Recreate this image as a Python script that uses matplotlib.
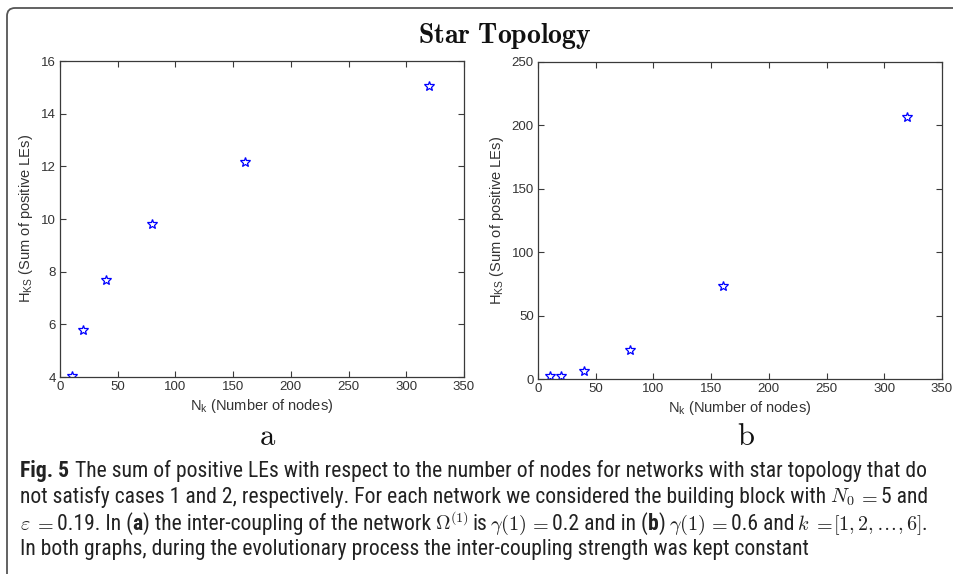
import matplotlib
matplotlib.use("Agg")
import matplotlib.pyplot as plt
from matplotlib import font_manager
from matplotlib.patches import FancyBboxPatch
from matplotlib.transforms import IdentityTransform

# data
nodes = [10, 20, 40, 80, 160, 320]
hks_a = [4.02, 5.77, 7.68, 9.80, 12.18, 15.05]
hks_b = [2.5, 2.5, 6.5, 23.0, 73.0, 207.0]

xticks = [0, 50, 100, 150, 200, 250, 300, 350]
yticks_a = [4, 6, 8, 10, 12, 14, 16]
yticks_b = [0, 50, 100, 150, 200, 250]

title = "Star Topology"
xlabel = "N$_\\mathregular{k}$ (Number of nodes)"
ylabel = "H$_\\mathregular{KS}$ (Sum of positive LEs)"

W, H = 954, 574
fig = plt.figure(figsize=(W / 100, H / 100), dpi=100)
plt.rcParams["font.family"] = ["Liberation Sans", "DejaVu Sans"]

axcol = "#3a3a3a"
txtcol = "#333333"


def panel(rect, y, yticks, ylim):
    ax = fig.add_axes(rect)
    ax.plot(nodes, y, linestyle="none", marker="*", markersize=7.5,
            markerfacecolor="none", markeredgecolor="#0000ff", markeredgewidth=0.9)
    ax.set_xlim(0, 350)
    ax.set_ylim(*ylim)
    ax.set_xticks(xticks)
    ax.set_yticks(yticks)
    ax.tick_params(direction="in", top=True, right=True, length=4, width=0.8,
                   labelsize=9.5, colors=axcol, labelcolor=txtcol, pad=3)
    for s in ax.spines.values():
        s.set_color(axcol)
        s.set_linewidth(0.9)
    ax.set_xlabel(xlabel, fontsize=10.5, color=txtcol, labelpad=3)
    ax.set_ylabel(ylabel, fontsize=10.5, color=txtcol, labelpad=4)
    return ax


panel([60 / W, 1 - 377 / H, 404 / W, 316 / H], hks_a, yticks_a, (4, 16))
panel([538 / W, 1 - 379 / H, 404 / W, 317 / H], hks_b, yticks_b, (0, 250))

fig.text(505 / W, 1 - 36 / H, "$\\mathbf{Star\\ Topology}$", math_fontfamily="cm",
         fontsize=20, ha="center", va="center", color="#111111")
fig.text(268 / W, 1 - 437 / H, "$\\mathrm{a}$", math_fontfamily="cm",
         fontsize=22, ha="center", va="center", color="#111111")
fig.text(746 / W, 1 - 437 / H, "$\\mathrm{b}$", math_fontfamily="cm",
         fontsize=22, ha="center", va="center", color="#111111")

# frame around the figure
fig.add_artist(FancyBboxPatch((7, -30), 1100, H - 8 + 30,
                              boxstyle="round,pad=0,rounding_size=8",
                              transform=IdentityTransform(), fill=False,
                              edgecolor="#555555", linewidth=1.3))

# caption
names = {f.name for f in font_manager.fontManager.ttflist}
cap_font = "DejaVu Sans"
for n in ["Roboto Condensed", "Liberation Sans Narrow", "Open Sans Condensed",
          "Noto Sans", "Open Sans", "Lato"]:
    if n in names:
        cap_font = n
        break

R = "r"
B = "b"
M = "m"
cap_lines = [
    [("Fig. 5", B, 6), ("The sum of positive LEs with respect to the number of nodes for networks with star topology that do", R, 0)],
    [("not satisfy cases 1 and 2, respectively. For each network we considered the building block with", R, 4),
     ("$N_0$", M, 3), ("$=$", M, 3), ("5 and", R, 0)],
    [("$\\varepsilon$", M, 3), ("$=$", M, 3), ("0.19. In (", R, 0), ("a", B, 0),
     (") the inter-coupling of the network", R, 4), ("$\\Omega^{(1)}$", M, 3), ("is", R, 3),
     ("$\\gamma(1)$", M, 3), ("$=$", M, 3), ("0.2 and in (", R, 0), ("b", B, 0), (")", R, 3),
     ("$\\gamma(1)$", M, 3), ("$=$", M, 3), ("0.6 and", R, 3), ("$k$", M, 3), ("$=$", M, 0),
     ("$[1,2,\\ldots,6]$", M, 0), (".", R, 0)],
    [("In both graphs, during the evolutionary process the inter-coupling strength was kept constant", R, 0)],
]
line_y = [471, 497, 524, 549]

renderer = fig.canvas.get_renderer()


def draw_caption(fs):
    arts = []
    widths = []
    for parts, yy in zip(cap_lines, line_y):
        x = 20.0
        for s, kind, gap in parts:
            kw = dict(fontsize=fs, color="#222222", va="baseline", ha="left")
            if kind == M:
                kw["math_fontfamily"] = "cm"
                kw["fontsize"] = fs * 0.93
            else:
                kw["family"] = cap_font
                if kind == B:
                    kw["fontweight"] = "bold"
            t = fig.text(x / W, 1 - (yy + 6) / H, s, **kw)
            arts.append(t)
            x += t.get_window_extent(renderer).width + gap
        widths.append(x)
    return arts, widths


arts, widths = draw_caption(13)
scale = (927 - 20) / (widths[0] - 20)
for a in arts:
    a.remove()
draw_caption(13 * scale)

fig.savefig("out.png", dpi=100)
